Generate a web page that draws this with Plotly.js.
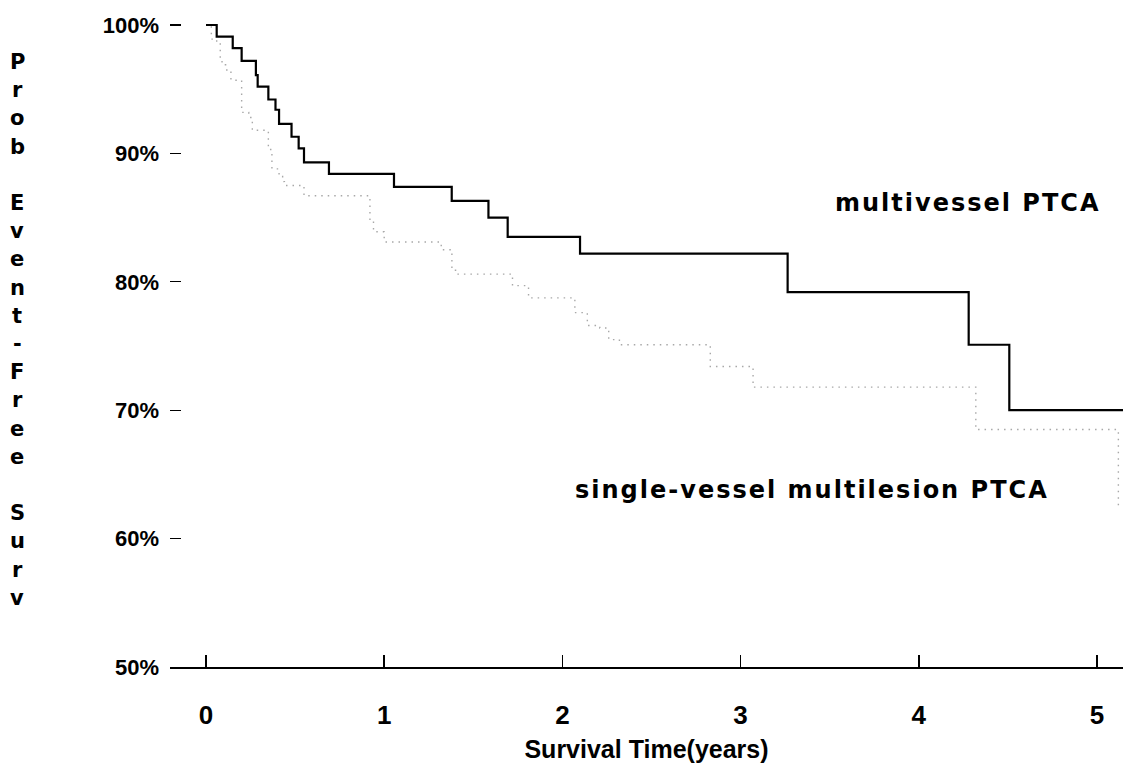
<!DOCTYPE html>
<html>
<head>
<meta charset="utf-8">
<script src="https://cdn.plot.ly/plotly-3.0.1.min.js"></script>
<style>
  html, body { margin: 0; padding: 0; background: #fff; }
  #chart { width: 1123px; height: 771px; }
  .annotation-text { letter-spacing: 2px; }
</style>
</head>
<body>
<div id="chart"></div>
<script>
// Multivessel PTCA (solid)
const multiTime = [0, 0.06, 0.15, 0.20, 0.28, 0.29, 0.35, 0.39, 0.41, 0.48, 0.52, 0.55, 0.69, 1.055, 1.379, 1.585, 1.693, 2.099, 3.264, 4.28, 4.508, 5.15];
const multiSurv = [100, 99.1, 98.2, 97.2, 96.1, 95.2, 94.2, 93.4, 92.3, 91.3, 90.4, 89.3, 88.4, 87.4, 86.3, 85.0, 83.5, 82.2, 79.2, 75.1, 70.0, 70.0];

// Single-vessel multilesion PTCA (dotted)
const singleTime = [0, 0.03, 0.06, 0.08, 0.09, 0.11, 0.14, 0.20, 0.24, 0.26, 0.35, 0.37, 0.41, 0.43, 0.44, 0.55, 0.92, 0.94, 1.00, 1.32, 1.38, 1.41, 1.72, 1.81, 2.07, 2.14, 2.21, 2.26, 2.32, 2.83, 3.07, 4.32, 5.12];
const singleSurv = [100, 98.9, 98.6, 97.3, 96.9, 96.5, 95.7, 93.2, 92.8, 91.8, 90.3, 88.8, 88.2, 87.8, 87.5, 86.7, 84.7, 83.9, 83.1, 82.5, 80.9, 80.6, 79.7, 78.75, 77.6, 76.6, 76.4, 75.5, 75.1, 73.4, 71.8, 68.5, 62.5];

const xTicks = [0, 1, 2, 3, 4, 5];
const yTicks = [50, 60, 70, 80, 90, 100];
const yTickText = ['50%', '60%', '70%', '80%', '90%', '100%'];
const yTitleChars = 'Prob Event-Free Surv'.split('');
const labelMulti = 'multivessel PTCA';
const labelSingle = 'single-vessel multilesion PTCA';

const FONT = 'DejaVu Sans';
const FONT2 = 'Liberation Sans';

const traces = [
  {
    x: singleTime, y: singleSurv, type: 'scatter', mode: 'lines',
    line: { shape: 'hv', color: '#a8a8a8', width: 1.4, dash: '1.5px,5px' },
    hoverinfo: 'skip', showlegend: false
  },
  {
    x: multiTime, y: multiSurv, type: 'scatter', mode: 'lines',
    line: { shape: 'hv', color: '#000', width: 2.2 },
    hoverinfo: 'skip', showlegend: false
  }
];

const annotations = [
  {
    text: labelMulti, x: 3.518, y: 86.1, xref: 'x', yref: 'y',
    xanchor: 'left', yanchor: 'middle', showarrow: false,
    font: { family: FONT, size: 24, weight: 700, color: '#000' }
  },
  {
    text: labelSingle, x: 2.059, y: 63.8, xref: 'x', yref: 'y',
    xanchor: 'left', yanchor: 'middle', showarrow: false,
    font: { family: FONT, size: 24, weight: 700, color: '#000' }
  }
];

// stacked vertical y-axis title, one character per row
const rowStartPx = 62, rowStepPx = 28.2;
yTitleChars.forEach(function (ch, i) {
  if (ch === ' ') return;
  const py = rowStartPx + i * rowStepPx;
  annotations.push({
    text: ch, xref: 'paper', yref: 'paper',
    x: (18 - 170) / 953, y: (667 - py) / 657,
    xanchor: 'center', yanchor: 'middle', showarrow: false,
    font: { family: FONT, size: 21, weight: 700, color: '#000' }
  });
});

const layout = {
  width: 1123, height: 771,
  margin: { l: 170, r: 0, t: 10, b: 104 },
  paper_bgcolor: '#fff', plot_bgcolor: '#fff',
  showlegend: false,
  xaxis: {
    range: [-0.202, 5.146],
    tickvals: xTicks, ticktext: xTicks.map(String),
    ticks: 'inside', ticklen: 12, tickwidth: 1.5, tickcolor: '#000',
    showline: true, linecolor: '#000', linewidth: 1.5,
    showgrid: false, zeroline: false,
    ticklabelstandoff: 24,
    tickfont: { family: FONT2, size: 26, weight: 700, color: '#000' },
    title: { text: 'Survival Time(years)', standoff: 12,
             font: { family: FONT2, size: 25, weight: 700, color: '#000' } }
  },
  yaxis: {
    range: [50, 101.17],
    tickvals: yTicks, ticktext: yTickText,
    ticks: 'inside', ticklen: 11, tickwidth: 1.3, tickcolor: '#000',
    showline: false, showgrid: false, zeroline: false,
    ticklabelstandoff: 10,
    tickfont: { family: FONT2, size: 22, weight: 700, color: '#000' }
  },
  annotations: annotations
};

Plotly.newPlot('chart', traces, layout, { staticPlot: true, displayModeBar: false });
</script>
</body>
</html>
